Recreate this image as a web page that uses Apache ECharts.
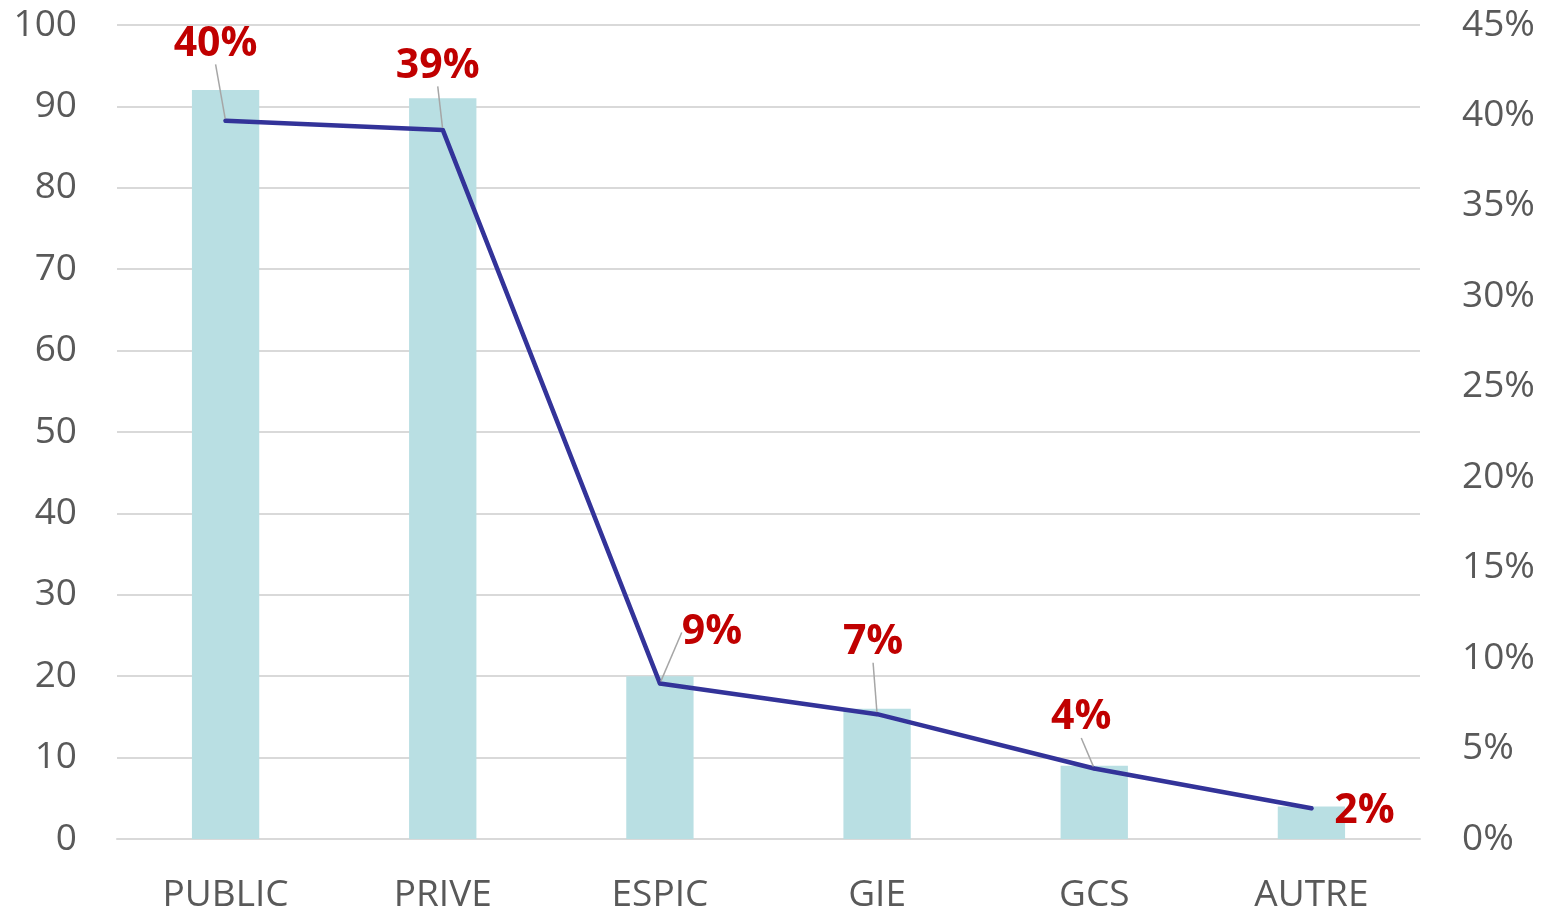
<!DOCTYPE html>
<html>
<head>
<meta charset="utf-8">
<script src="https://cdn.jsdelivr.net/npm/echarts@6/dist/echarts.min.js"></script>
<style>
  html, body { margin: 0; padding: 0; background: #fff; }
  #chart { width: 1546px; height: 914px; }
</style>
</head>
<body>
<div id="chart"></div>
<script>
const categories = ['PUBLIC', 'PRIVE', 'ESPIC', 'GIE', 'GCS', 'AUTRE'];
const counts = [92, 91, 20, 16, 9, 4];
const shares = [39.7, 39.2, 8.6, 6.9, 3.9, 1.7];
const shareLabels = ['40%', '39%', '9%', '7%', '4%', '2%'];

// where each % label sits relative to its point (px)
const labelOffsets = [[-10, -77], [-5, -64], [52, -51], [-4, -72], [-13, -51], [53, 3]];

const chart = echarts.init(document.getElementById('chart'));
const axisFont = { fontFamily: 'Open Sans', fontSize: 37, color: '#595959' };

chart.setOption({
  animation: false,
  grid: { left: 117, right: 126, top: 25, bottom: 74 },
  xAxis: {
    type: 'category',
    data: categories,
    axisTick: { show: false },
    axisLine: { lineStyle: { color: '#D9D9D9', width: 2 } },
    axisLabel: { ...axisFont, margin: 38 }
  },
  yAxis: [
    {
      type: 'value', min: 0, max: 100, interval: 10,
      axisLine: { show: false }, axisTick: { show: false },
      splitLine: { lineStyle: { color: '#D9D9D9', width: 2 } },
      axisLabel: { ...axisFont, margin: 40 }
    },
    {
      type: 'value', min: 0, max: 45, interval: 5,
      axisLine: { show: false }, axisTick: { show: false },
      splitLine: { show: false },
      axisLabel: { ...axisFont, margin: 42, formatter: '{value}%' }
    }
  ],
  series: [
    {
      type: 'bar',
      data: counts,
      barWidth: '31%',
      itemStyle: { color: '#B9DFE3' }
    },
    {
      type: 'line',
      yAxisIndex: 1,
      // last label sits right beside its point, no leader line there
      data: shares.map((v, i) => i === shares.length - 1 ? { value: v, labelLine: { show: false } } : v),
      symbol: 'circle',
      symbolSize: 4,
      lineStyle: { color: '#333399', width: 4.5, cap: 'round', join: 'round' },
      itemStyle: { color: '#333399' },
      label: {
        show: true,
        formatter: p => shareLabels[p.dataIndex],
        fontFamily: 'Open Sans',
        fontWeight: 'bold',
        fontSize: 41,
        color: '#C00000',
        padding: [2, 6]
      },
      labelLine: { show: true, lineStyle: { color: '#A6A6A6', width: 1.5 } },
      labelLayout: function (params) {
        const o = labelOffsets[params.dataIndex];
        const cx = params.rect.x + params.rect.width / 2;
        const cy = params.rect.y + params.rect.height / 2;
        return { x: cx + o[0], y: cy + o[1], align: 'center', verticalAlign: 'middle' };
      }
    }
  ]
});
</script>
</body>
</html>
